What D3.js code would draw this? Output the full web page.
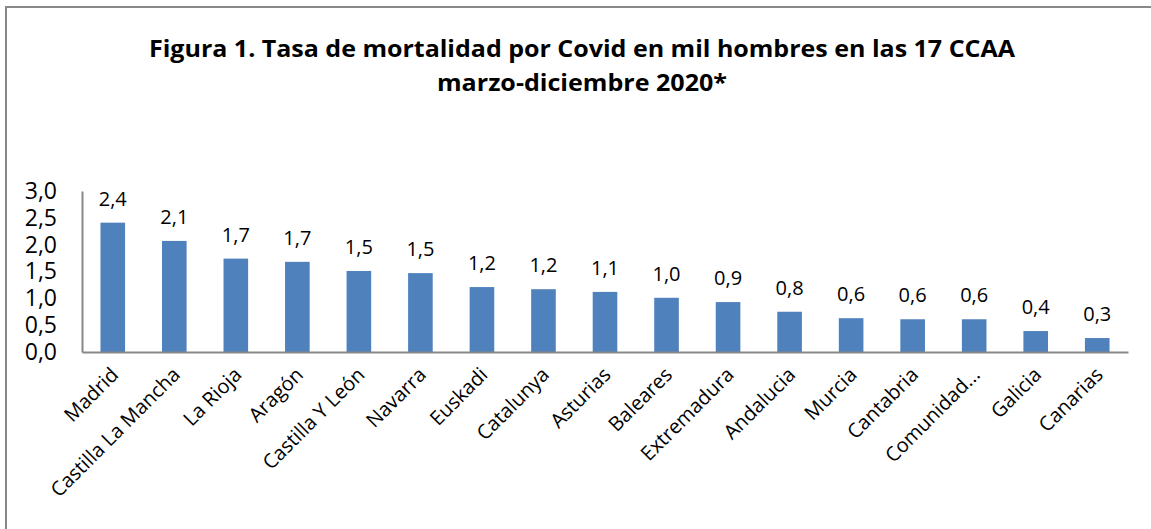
<!DOCTYPE html>
<html>
<head>
<meta charset="utf-8">
<script src="https://cdn.jsdelivr.net/npm/d3@7"></script>
<style>
  body { margin: 0; background: #fff; }
  text { font-family: "Open Sans", "Noto Sans", sans-serif; fill: #000; }
</style>
</head>
<body>
<div id="chart"></div>
<script>
// Tasa de mortalidad por Covid en mil hombres, marzo-diciembre 2020
var regions = ["Madrid", "Castilla La Mancha", "La Rioja", "Aragón", "Castilla Y León",
  "Navarra", "Euskadi", "Catalunya", "Asturias", "Baleares", "Extremadura",
  "Andalucia", "Murcia", "Cantabria", "Comunidad...", "Galicia", "Canarias"];
var rates = [2.41, 2.07, 1.74, 1.68, 1.51, 1.47, 1.21, 1.17, 1.12, 1.01, 0.93,
  0.75, 0.63, 0.61, 0.61, 0.39, 0.26];
var yTicks = [0, 0.5, 1, 1.5, 2, 2.5, 3];
var titleLines = ["Figura 1. Tasa de mortalidad por Covid en mil hombres en las 17 CCAA",
  "marzo-diciembre 2020*"];

(function () {
  'use strict';
  var width = 1151, height = 529,
      left = 82, right = 1128, top = 191, bottom = 352,
      comma = function (v) { return d3.format(".1f")(v).replace(".", ","); };

  var svg = d3.select("#chart").append("svg")
    .attr("width", width)
    .attr("height", height);

  // outer frame (only top and left edges show in the crop)
  svg.append("path")
    .attr("d", "M6,540V7H1160")
    .attr("fill", "none")
    .attr("stroke", "#888")
    .attr("stroke-width", 2);

  svg.selectAll("text.title")
    .data(titleLines)
    .enter()
    .append("text")
    .attr("class", "title")
    .attr("x", 582)
    .attr("y", function (d, i) { return 57 + i * 34; })
    .attr("text-anchor", "middle")
    .attr("font-weight", "bold")
    .attr("font-size", 24)
    .attr("textLength", function (d, i) { return i === 0 ? 866 : 290; })
    .attr("lengthAdjust", "spacingAndGlyphs")
    .text(function (d) { return d; });

  var x = d3.scaleBand()
    .domain(regions)
    .range([left, right])
    .paddingInner(0.6)
    .paddingOuter(0.3);

  var y = d3.scaleLinear()
    .domain([0, 3])
    .range([bottom, top]);

  var yAxis = svg.append("g")
    .attr("transform", "translate(" + left + ",0)")
    .call(d3.axisLeft(y).tickValues(yTicks).tickSize(0).tickPadding(25).tickFormat(comma));
  yAxis.select(".domain").attr("stroke", "#888").attr("stroke-width", 2);
  yAxis.selectAll("text")
    .attr("font-size", 23)
    .attr("font-family", "'Open Sans', sans-serif")
    .attr("fill", "#000");

  svg.selectAll("rect.bar")
    .data(rates)
    .enter()
    .append("rect")
    .attr("class", "bar")
    .attr("x", function (d, i) { return x(regions[i]); })
    .attr("y", function (d) { return y(d); })
    .attr("width", x.bandwidth())
    .attr("height", function (d) { return y(0) - y(d); })
    .attr("fill", "#4F81BD");

  svg.selectAll("text.value")
    .data(rates)
    .enter()
    .append("text")
    .attr("class", "value")
    .attr("x", function (d, i) { return x(regions[i]) + x.bandwidth() / 2; })
    .attr("y", function (d) { return y(d) - 17; })
    .attr("text-anchor", "middle")
    .attr("font-size", 20)
    .text(function (d) { return comma(d); });

  var xAxis = svg.append("g")
    .attr("transform", "translate(0," + bottom + ")")
    .call(d3.axisBottom(x).tickSize(0).tickPadding(0));
  xAxis.select(".domain").attr("stroke", "#888").attr("stroke-width", 2);
  xAxis.selectAll("text")
    .attr("font-size", 20)
    .attr("font-family", "'Open Sans', sans-serif")
    .attr("fill", "#000")
    .attr("dy", 0)
    .attr("text-anchor", "end")
    .attr("transform", "translate(7,24) rotate(-45)");
}());
</script>
</body>
</html>
